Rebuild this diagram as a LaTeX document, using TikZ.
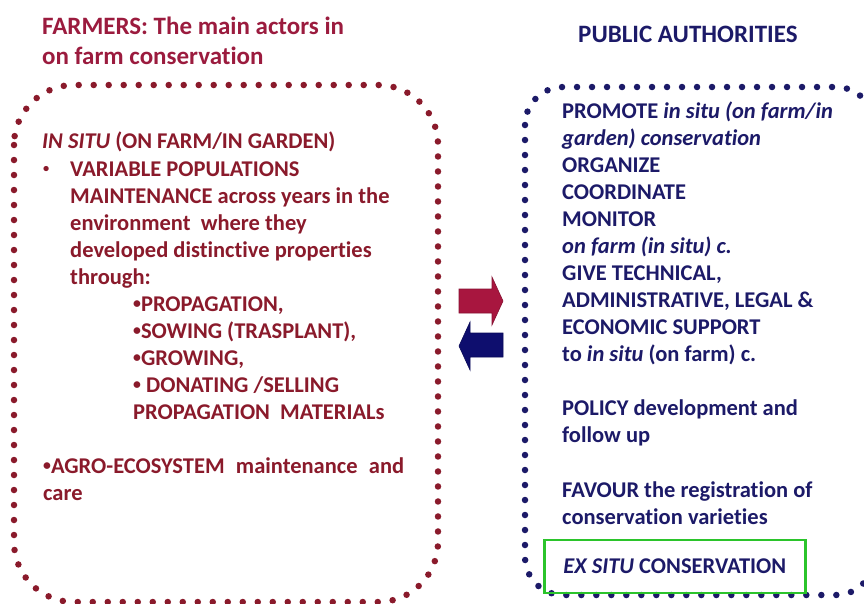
\documentclass[tikz,border=0pt]{standalone}
\usepackage{fontspec}
\setmainfont{Carlito}[Ligatures=NoCommon]
\usetikzlibrary{positioning}

\definecolor{farmred}{HTML}{8A1A2B}
\definecolor{titlered}{HTML}{9B1B3E}
\definecolor{arrowred}{HTML}{A8163F}
\definecolor{authblue}{HTML}{1C1A68}
\definecolor{arrowblue}{HTML}{0E0E6E}
\definecolor{exgreen}{HTML}{2BC42B}

\newcommand\smbul{\raisebox{2.8pt}{\scalebox{0.7}{•}}}

\begin{document}
\begin{tikzpicture}[x=1pt,y=-1pt,
    bodyfont/.style={font=\bfseries\fontsize{22.5}{27.1}\selectfont},
    farmtext/.style={bodyfont,anchor=base west,inner sep=0pt,align=left,text=farmred},
    authtext/.style={bodyfont,anchor=base west,inner sep=0pt,align=left,text=authblue},
    dotline/.style={line width=6.5pt,dash pattern=on 0pt off 15pt,line cap=round}]
    \useasboundingbox (0,0) rectangle (864,603);
    \clip (0,0) rectangle (864,603);

    % titles (a multi-line node sits on the baseline of its last line)
    \node[anchor=base west,inner sep=0pt,align=left,text=titlered,
          font=\bfseries\fontsize{25}{30}\selectfont] (farmers) at (42,64)
          {FARMERS: The main actors in\\on farm conservation};
    \node[anchor=base west,inner sep=0pt,text=authblue,
          font=\bfseries\fontsize{25}{30}\selectfont] (authorities) at (578,42)
          {PUBLIC AUTHORITIES};

    % dotted boxes
    \draw[dotline,farmred,rounded corners=60pt] (14,85) rectangle (438,602);
    \draw[dotline,authblue,rounded corners=38pt] (525,87) rectangle (874,595);

    % farmers side
    \node[farmtext] (insitu) at (42,148) {\textit{IN SITU} (ON FARM/IN GARDEN)};
    \node[farmtext] (bullet) at (43,176) {\raisebox{3.6pt}{\scalebox{0.55}{•}}};
    \node[farmtext] (varpop) at (70,284.4)
          {VARIABLE POPULATIONS\\MAINTENANCE across years in the\\environment~ where they\\developed distinctive properties\\through:};
    \node[farmtext] (steps) at (133,419.4)
          {\smbul PROPAGATION,\\\smbul SOWING (TRASPLANT),\\\smbul GROWING,\\\smbul{} DONATING /SELLING\\PROPAGATION~ MATERIALs};
    \node[farmtext] (agro) at (43,500.1)
          {\makebox[361pt][s]{\smbul AGRO-ECOSYSTEM maintenance and}\\care};

    % arrows between the two
    \filldraw[fill=arrowred,draw=arrowred!80!black,line width=0.6pt]
        (459,289) -- (492,289) -- (492,277) -- (503,301) -- (492,325) -- (492,313) -- (459,313) -- cycle;
    \filldraw[fill=arrowblue,draw=arrowblue!80!black,line width=0.6pt]
        (503,333) -- (470,333) -- (470,322) -- (459,346) -- (470,370) -- (470,357) -- (503,357) -- cycle;

    % public authorities side
    \node[authtext] (promote) at (562,361.9)
          {PROMOTE \textit{in situ (on farm/in}\\\textit{garden) conservation}\\ORGANIZE\\COORDINATE\\MONITOR\\\textit{on farm (in situ) c.}\\GIVE TECHNICAL,\\ADMINISTRATIVE, LEGAL \&\\ECONOMIC SUPPORT\\to \textit{in situ} (on farm) c.};
    \node[authtext] (policy) at (562,442.1) {POLICY development and\\follow up};
    \node[authtext] (favour) at (562,524.1) {FAVOUR the registration of\\conservation varieties};
    \node[draw=exgreen,line width=2.8pt,anchor=west,inner xsep=19pt,minimum height=53pt,
          bodyfont,text=authblue] (exsitu) at (543,566.5) {\textit{EX SITU} CONSERVATION};
\end{tikzpicture}
\end{document}
